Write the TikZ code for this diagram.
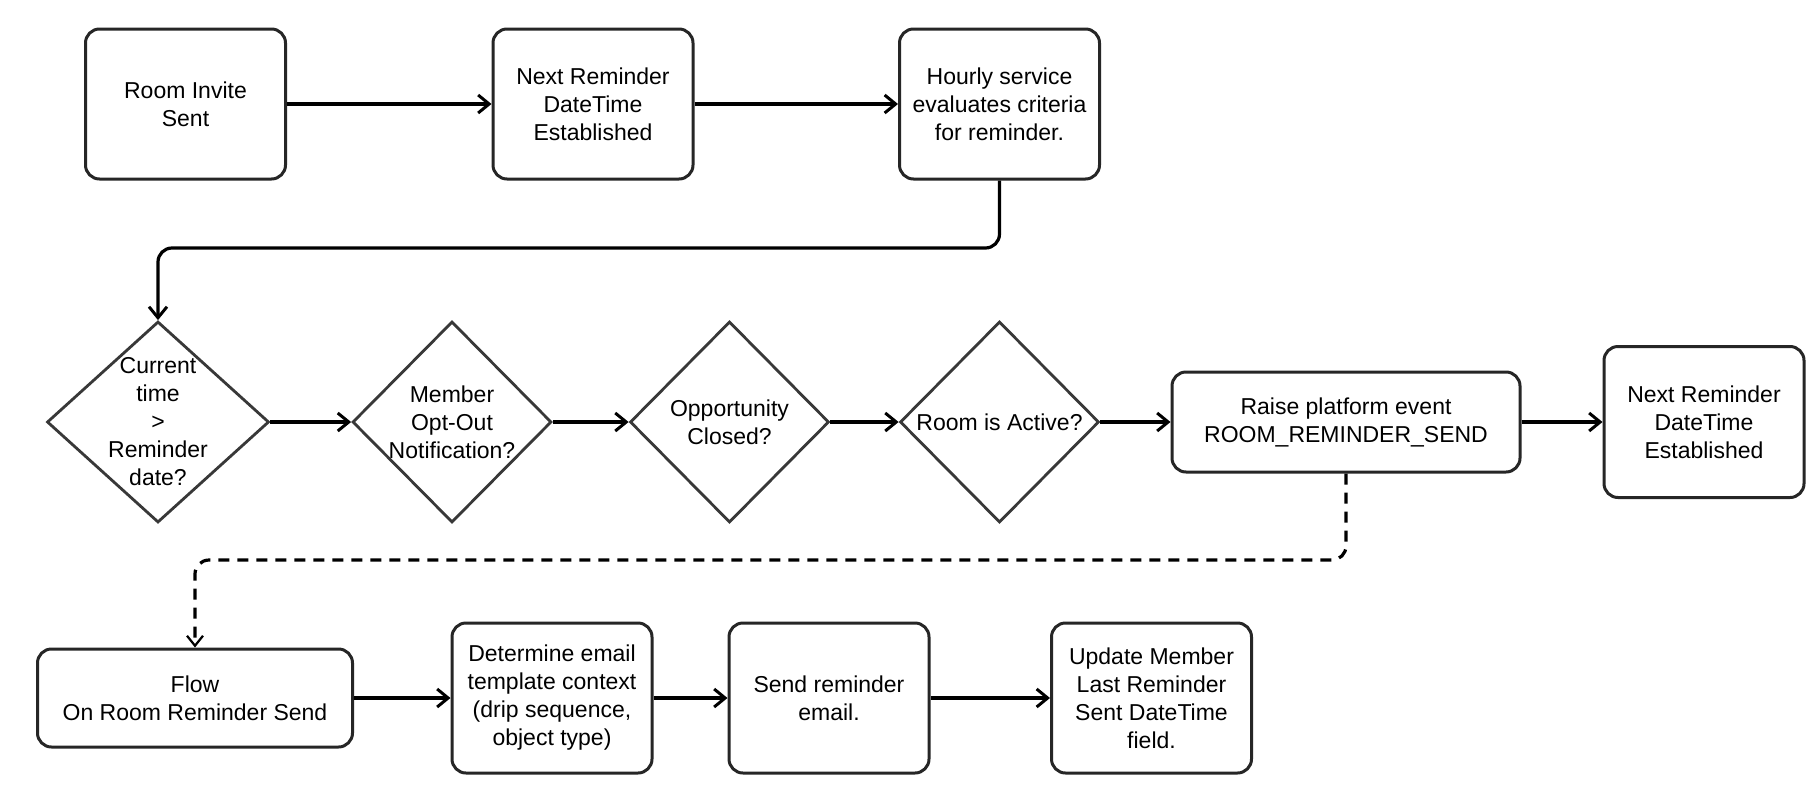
\documentclass[tikz,border=0pt]{standalone}
\usepackage{fontspec}
\setmainfont{Liberation Sans}
\usetikzlibrary{shapes.geometric,arrows.meta}
\begin{document}
\begin{tikzpicture}[x=1pt,y=-1pt,
  box/.style={draw=black!85, line width=3pt, rounded corners=14pt, fill=white, inner sep=0pt, align=center, font=\fontsize{23}{28}\selectfont},
  dia/.style={draw=black!78, line width=2.8pt, shape=diamond, inner sep=0pt, fill=white},
  txt/.style={align=center, inner sep=0pt, font=\fontsize{23}{28}\selectfont},
  arr/.style={line width=3.2pt, -{Straight Barb[length=11pt,width=18pt,line width=3pt]}},
  darr/.style={line width=3.2pt, dash pattern=on 11pt off 8pt, -{Straight Barb[length=10pt,width=16pt,line width=2.2pt]}}
]
\useasboundingbox (0,0) rectangle (1812,806);
\fill[white] (0,0) rectangle (1812,806);

% top row
\node[box, minimum width=200pt, minimum height=150pt] (A) at (185.5,104) {Room Invite\\Sent};
\node[box, minimum width=200pt, minimum height=150pt] (B) at (593,104) {Next Reminder\\DateTime\\Established};
\node[box, minimum width=200pt, minimum height=150pt] (C) at (999.5,104) {Hourly service\\evaluates criteria\\for reminder.};

% diamonds
\node[dia, minimum width=222pt, minimum height=201pt] (D1) at (158,422) {};
\node[txt] at (D1) {Current\\time\\>\\Reminder\\date?};
\node[dia, minimum width=199pt, minimum height=201pt] (D2) at (452,422) {};
\node[txt] at (D2) {Member\\Opt-Out\\Notification?};
\node[dia, minimum width=199pt, minimum height=201pt] (D3) at (729.5,422) {};
\node[txt] at (D3) {Opportunity\\Closed?};
\node[dia, minimum width=199pt, minimum height=201pt] (D4) at (999.5,422) {};
\node[txt] at (D4) {Room is Active?};

\node[box, minimum width=348pt, minimum height=100pt] (E) at (1346,422) {Raise platform event\\ROOM\_REMINDER\_SEND};
\node[box, minimum width=200pt, minimum height=151pt] (F) at (1704,422) {Next Reminder\\DateTime\\Established};

% bottom row
\node[box, minimum width=315pt, minimum height=98pt] (G) at (195,698) {Flow\\On Room Reminder Send};
\node[box, minimum width=200pt, minimum height=150pt] (H) at (552,698) {Determine email\\template context\\(drip sequence,\\object type)};
\node[box, minimum width=200pt, minimum height=150pt] (I) at (829,698) {Send reminder\\email.};
\node[box, minimum width=200pt, minimum height=150pt] (J) at (1151.5,698) {Update Member\\Last Reminder\\Sent DateTime\\field.};

% connectors
\draw[arr] (A) -- (B);
\draw[arr] (B) -- (C);
\coordinate (bendA) at (158,248);
\draw[arr, rounded corners=14pt] (C.south) |- (bendA) -- (D1.north);
\draw[arr] (D1.east) -- (D2.west);
\draw[arr] (D2.east) -- (D3.west);
\draw[arr] (D3.east) -- (D4.west);
\draw[arr] (D4.east) -- (E.west);
\draw[arr] (E.east) -- (F.west);
\coordinate (bendB) at (195,560);
\draw[darr, rounded corners=14pt] (E.south) |- (bendB) -- (G.north);
\draw[arr] (G) -- (H);
\draw[arr] (H) -- (I);
\draw[arr] (I) -- (J);
\end{tikzpicture}
\end{document}
